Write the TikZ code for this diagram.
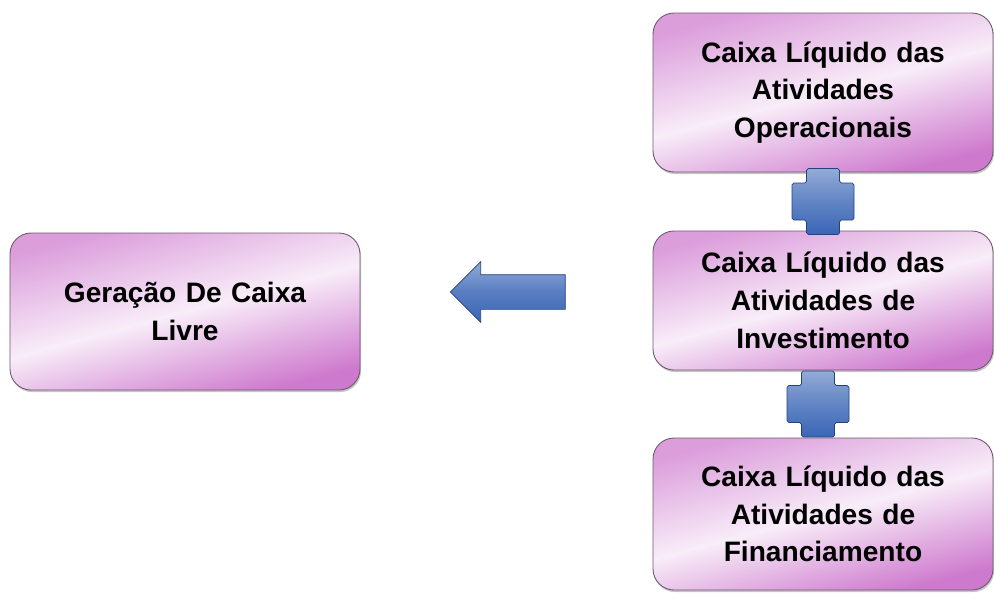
\documentclass[tikz,border=0pt]{standalone}
\usepackage{fontspec}
\setmainfont{Liberation Sans}
\usepackage{tikz}
\usetikzlibrary{arrows.meta,calc,positioning,shapes.arrows,shadows}
\definecolor{Orquidea}{HTML}{C86AC8}
\definecolor{Contorno}{HTML}{6E5A6E}
\definecolor{Azul}{HTML}{3A66B6}
\definecolor{AzulEsc}{HTML}{24437E}

\begin{document}
\begin{tikzpicture}[
      caixa/.style={draw=Contorno,line width=0.5pt,rounded corners=12pt,
        top color=Orquidea!65,bottom color=Orquidea!90,middle color=Orquidea!12,
        shading angle=15,text width=6.2cm,align=center,
        font=\fontsize{16}{21.5}\selectfont\bfseries,
        drop shadow={opacity=0.45,shadow xshift=0.6pt,shadow yshift=-1.2pt}},
      mais/.style={draw=AzulEsc,line width=0.4pt,top color=Azul!55,bottom color=Azul,
        middle color=Azul!80}]
      \useasboundingbox (0,0) rectangle (19.88,-11.88);
      \node[caixa,minimum width=7.0cm,minimum height=3.14cm] (geracao) at (3.70,-6.23)
        {Geração De Caixa\\Livre};
      \node[caixa,minimum width=6.8cm,minimum height=3.18cm] (operacionais) at (16.46,-1.85)
        {Caixa Líquido das\\Atividades\\Operacionais};
      \node[caixa,minimum width=6.8cm,minimum height=2.78cm] (investimento) at (16.46,-6.01)
        {Caixa Líquido das\\Atividades de\\Investimento};
      \node[caixa,minimum width=6.8cm,minimum height=3.04cm] (financiamento) at (16.46,-10.28)
        {Caixa Líquido das\\Atividades de\\Financiamento};
      % sinais de soma entre as caixas
      \foreach \a/\b/\dx in {operacionais/investimento/0,investimento/financiamento/-0.1}{
        \coordinate (m) at ($(\a.south)!0.5!(\b.north)+(\dx,0)$);
        \draw[mais,rounded corners=1pt] ($(m)+(-0.33,0.66)$) -- ++(0.66,0) -- ++(0,-0.29)
          -- ++(0.29,0) -- ++(0,-0.74) -- ++(-0.29,0) -- ++(0,-0.29) -- ++(-0.66,0)
          -- ++(0,0.29) -- ++(-0.29,0) -- ++(0,0.74) -- ++(0.29,0) -- cycle;
      }
      \node[single arrow,shape border rotate=180,draw=AzulEsc,line width=0.4pt,
        top color=Azul!55,bottom color=Azul,middle color=Azul!85,
        minimum width=1.2cm,single arrow head extend=0.26cm,minimum height=2.3cm,
        inner xsep=0pt,inner ysep=0.34cm]
        (seta) at ($(geracao.east)!0.5!(investimento.west)+(0.2,0.28)$) {};
\end{tikzpicture}
\end{document}
